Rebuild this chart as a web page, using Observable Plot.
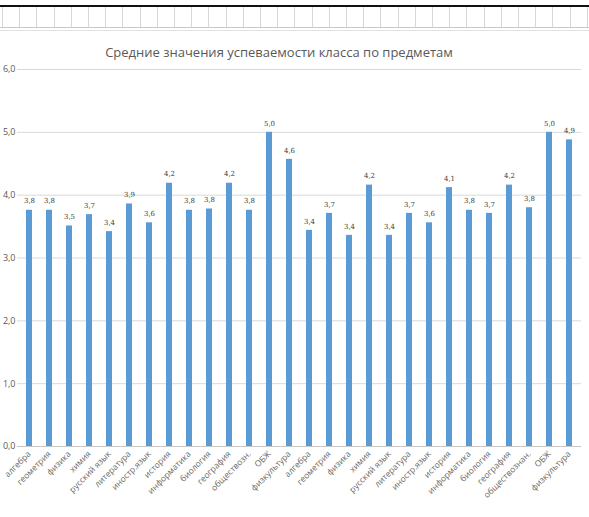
<!DOCTYPE html>
<html>
<head>
<meta charset="utf-8">
<script src="https://cdn.jsdelivr.net/npm/d3@7"></script>
<script src="https://cdn.jsdelivr.net/npm/@observablehq/plot@0.6"></script>
<style>
  html, body { margin: 0; padding: 0; background: #fff; }
  body { width: 589px; height: 517px; position: relative; overflow: hidden; font-family: "Open Sans", "Liberation Sans", sans-serif; }
  #sheet { position: absolute; left: 0; top: 5px; width: 589px; height: 23px;
    border-top: 2px solid #111; border-bottom: 1px solid #c8c8c8;
    background-image: repeating-linear-gradient(to right, #d6d6d6 0, #d6d6d6 1px, transparent 1px, transparent 17.2px);
    background-position: 2px 0; box-sizing: border-box; }
  #sheetline { position: absolute; left: 0; top: 30px; width: 589px; height: 1px; background: #e2e2e2; }
  #title { position: absolute; left: 0; top: 43px; width: 558px; text-align: center; font-size: 13px; color: #595959; }
  #chart { position: absolute; left: 0; top: 0; }
</style>
</head>
<body>
<div id="sheet"></div>
<div id="sheetline"></div>
<div id="chart"></div>
<div id="title">Средние значения успеваемости класса по предметам</div>
<script>
const subjects = ["алгебра","геометрия","физика","химия","русский язык","литература","иностр.язык","история","информатика","биология","география","обществозн.","ОБЖ","физкультура",
                  "алгебра","геометрия","физика","химия","русский язык","литература","иностр.язык","история","информатика","биология","география","обществознан.","ОБЖ","физкультура"];
const averages = [3.76,3.76,3.51,3.69,3.42,3.86,3.56,4.19,3.76,3.78,4.19,3.76,5.0,4.57,
                  3.44,3.71,3.36,4.16,3.36,3.71,3.56,4.12,3.76,3.71,4.16,3.80,5.0,4.88];
const yTicks = [0,1,2,3,4,5,6];

const data = subjects.map((s, i) => ({key: i, subject: s, value: averages[i]}));
const fmt = v => v.toFixed(1).replace(".", ",");

const chart = Plot.plot({
  width: 589,
  height: 517,
  marginTop: 69,
  marginBottom: 71,
  marginLeft: 17,
  marginRight: 8,
  style: {background: "transparent", color: "#595959", fontFamily: "'Open Sans', 'Liberation Sans', sans-serif"},
  x: {type: "band", domain: data.map(d => d.key), paddingInner: 0.68, paddingOuter: 0.34},
  y: {domain: [0, 6]},
  marks: [
    Plot.ruleY(yTicks.filter(t => t > 0), {stroke: "#d9d9d9", strokeWidth: 1}),
    Plot.ruleY([0], {stroke: "#c6c6c6", strokeWidth: 1}),
    Plot.barY(data, {x: "key", y: "value", fill: "#5b9bd5"}),
    Plot.text(data, {x: "key", y: "value", text: d => fmt(d.value), dy: -9, fontSize: 7, fill: "#404040", fontFamily: "'DejaVu Serif', 'Liberation Serif', serif"}),
    Plot.axisY({ticks: yTicks, tickFormat: fmt, tickSize: 0, tickPadding: 2, fontSize: 9, label: null}),
    Plot.axisX({tickFormat: k => subjects[k], tickRotate: -45, tickSize: 0, tickPadding: 6, fontSize: 8.5, fill: "#6a6a6a", label: null})
  ]
});
document.getElementById("chart").appendChild(chart);
</script>
</body>
</html>
